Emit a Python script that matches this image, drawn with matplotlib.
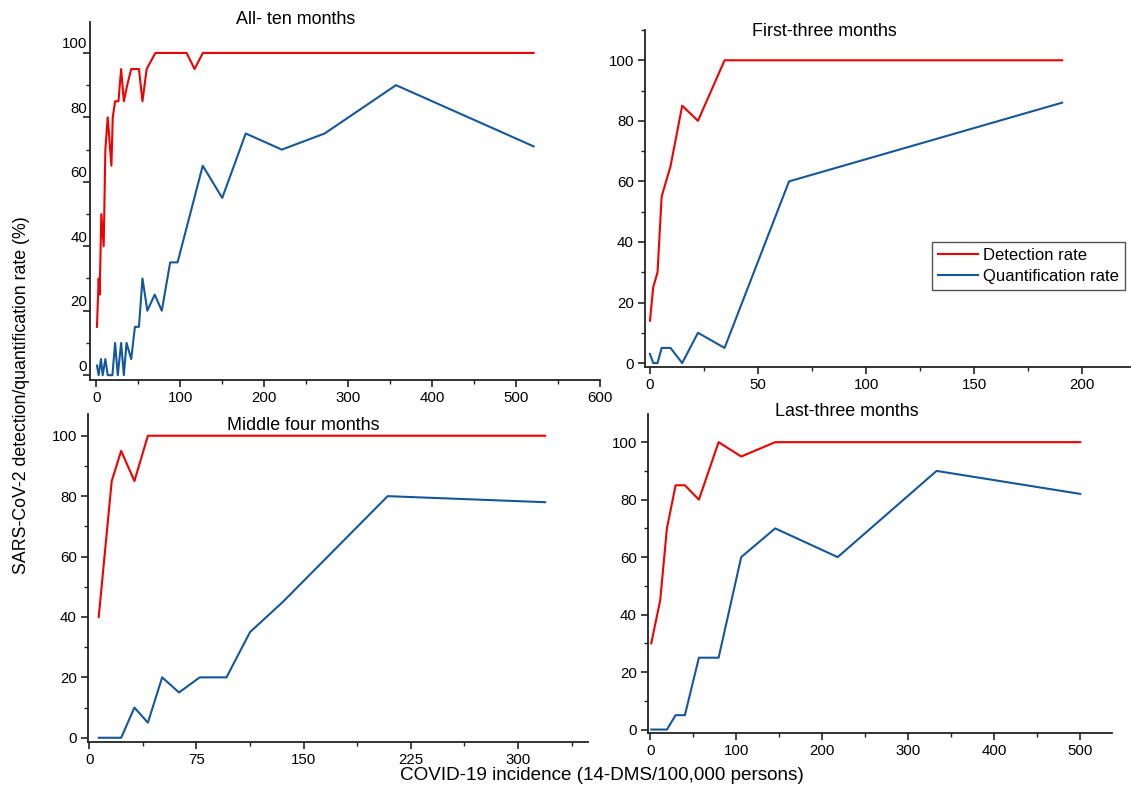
import matplotlib
matplotlib.use("Agg")
import matplotlib.pyplot as plt
import matplotlib.transforms as mtrans
from matplotlib.ticker import MultipleLocator

plt.rcParams['font.family'] = ['Liberation Sans', 'DejaVu Sans']

# ---------------- data ----------------
# All ten months
all_det_x = [0.8, 2.8, 4, 6, 8.8, 10.8, 13.6, 18, 19.6, 22.4, 26.4, 29.6, 32.8, 36.8,
             41.6, 50.8, 55, 60, 70.4, 107.6, 117, 127, 521]
all_det_y = [15, 30, 25, 50, 40, 70, 80, 65, 80, 85, 85, 95, 85, 90,
             95, 95, 85, 95, 100, 100, 95, 100, 100]
all_q_x = [0.8, 2.8, 5.6, 7.6, 10.8, 13.6, 19.2, 22.4, 25.6, 29.6, 32.8, 36, 41.6, 46,
           50.8, 55, 60.8, 69.6, 78, 88, 96.8, 126.8, 150, 178, 221, 272, 357, 521]
all_q_y = [3, 0, 5, 0, 5, 0, 0, 10, 0, 10, 0, 10, 5, 15,
           15, 30, 20, 25, 20, 35, 35, 65, 55, 75, 70, 75, 90, 71]

# First three months
first_det_x = [0, 1.5, 3.5, 5.4, 9.5, 14.9, 22.2, 34.5, 190.6]
first_det_y = [14, 25, 30, 55, 65, 85, 80, 100, 100]
first_q_x = [0, 1.5, 3.5, 5.4, 9.5, 14.9, 22.2, 34.5, 64.3, 190.6]
first_q_y = [3, 0, 0, 5, 5, 0, 10, 5, 60, 86]

# Middle four months
mid_det_x = [6.6, 15.7, 22.3, 31.6, 41, 319]
mid_det_y = [40, 85, 95, 85, 100, 100]
mid_q_x = [6.6, 22.3, 31.6, 41, 51, 62.8, 77.3, 96, 112.5, 135.5, 208.8, 319]
mid_q_y = [0, 0, 10, 5, 20, 15, 20, 20, 35, 45, 80, 78]

# Last three months
last_det_x = [1.2, 11.6, 19.4, 29.5, 40.3, 56.6, 79.5, 105.8, 145.3, 500]
last_det_y = [30, 45, 70, 85, 85, 80, 100, 95, 100, 100]
last_q_x = [1.2, 19.4, 29.5, 40.3, 56.6, 79.5, 105.8, 145.3, 218, 333, 500]
last_q_y = [0, 0, 5, 5, 25, 25, 60, 70, 60, 90, 82]

titles = ["All- ten months", "First-three months", "Middle four months", "Last-three months"]
legend_labels = ["Detection rate", "Quantification rate"]
ylabel = "SARS-CoV-2 detection/quantification rate (%)"
xlabel = "COVID-19 incidence (14-DMS/100,000 persons)"

RED = "#f00000"
BLUE = "#15579b"

W, H = 1131, 790
fig = plt.figure(figsize=(W / 100, H / 100), dpi=100)


def frac(l, r, b, t):
    return [l / W, 1 - b / H, (r - l) / W, (b - t) / H]


panels = [
    dict(rect=frac(90, 600, 380, 22), xlim=(-7.5, 600), ylim=(-1.5, 109.6),
         xmaj=100, xmin=50, det=(all_det_x, all_det_y), q=(all_q_x, all_q_y),
         title=titles[0], tpos=(296, 19)),
    dict(rect=frac(645, 1130, 367, 30), xlim=(-2.3, 222), ylim=(-1.3, 110),
         xmaj=50, xmin=25, det=(first_det_x, first_det_y), q=(first_q_x, first_q_y),
         title=titles[1], tpos=(824, 32)),
    dict(rect=frac(88, 588, 742, 414), xlim=(-0.9, 349), ylim=(-1.4, 107.2),
         xmaj=75, xmin=37.5, det=(mid_det_x, mid_det_y), q=(mid_q_x, mid_q_y),
         title=titles[2], tpos=(303, 425)),
    dict(rect=frac(648, 1112, 733, 414), xlim=(-2.6, 537), ylim=(-1.2, 109.8),
         xmaj=100, xmin=50, det=(last_det_x, last_det_y), q=(last_q_x, last_q_y),
         title=titles[3], tpos=(847, 412)),
]

axes = []
for i, p in enumerate(panels):
    ax = fig.add_axes(p["rect"])
    axes.append(ax)
    l1, = ax.plot(*p["det"], color=RED, lw=1.5, label=legend_labels[0])
    l2, = ax.plot(*p["q"], color=BLUE, lw=1.5, label=legend_labels[1])
    ax.set_xlim(*p["xlim"])
    ax.set_ylim(*p["ylim"])
    ax.xaxis.set_major_locator(MultipleLocator(p["xmaj"]))
    ax.xaxis.set_minor_locator(MultipleLocator(p["xmin"]))
    ax.yaxis.set_major_locator(MultipleLocator(20))
    ax.yaxis.set_minor_locator(MultipleLocator(10))
    for s in ["top", "right"]:
        ax.spines[s].set_visible(False)
    for s in ["left", "bottom"]:
        ax.spines[s].set_linewidth(1.3)
        ax.spines[s].set_color("#222222")
    ax.tick_params(which="major", direction="out", length=5, width=1.2,
                   labelsize=10.8, colors="#222222", labelcolor="black", pad=3)
    ax.tick_params(which="minor", direction="out", length=3, width=1.0, colors="#222222")
    fig.text(p["tpos"][0] / W, 1 - p["tpos"][1] / H, p["title"], ha="center",
             va="center", fontsize=12.9)
    if i == 1:
        ax.legend(handles=[l1, l2], loc="upper right",
                  bbox_to_anchor=(1125 / W, 1 - 242 / H), bbox_transform=fig.transFigure,
                  fontsize=12, frameon=True, fancybox=False, framealpha=1,
                  edgecolor="#555555", handlelength=2.4, borderpad=0.35,
                  labelspacing=0.35, handletextpad=0.3, borderaxespad=0)

# top-left panel: tick labels sit ~10 px above their ticks, close to the axis
axes[0].tick_params(axis="y", which="major", pad=-3)
fig.canvas.draw()
off = mtrans.ScaledTranslation(0, 10 / 100, fig.dpi_scale_trans)
for t in axes[0].yaxis.get_major_ticks():
    t.label1.set_transform(t.label1.get_transform() + off)

fig.text(22 / W, 1 - 395 / H, ylabel, rotation=90, ha="center", va="center", fontsize=12.8)
fig.text(602 / W, 1 - 776 / H, xlabel, ha="center", va="center", fontsize=13.6)

fig.savefig("out.png", dpi=100)
